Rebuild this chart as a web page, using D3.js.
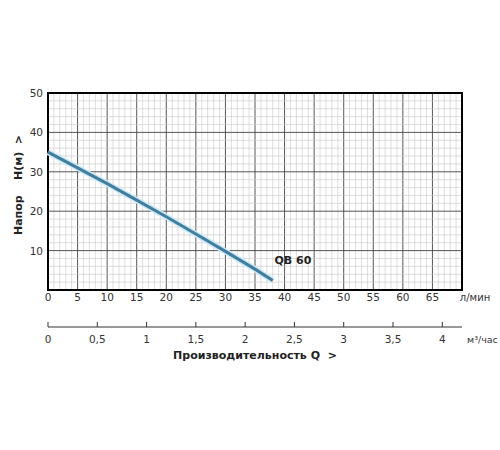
<!DOCTYPE html><html><head><meta charset="utf-8"><script src="https://cdn.jsdelivr.net/npm/d3@7"></script>
<style>body{margin:0;background:#fff}text{font-family:"DejaVu Sans",sans-serif}</style></head><body><svg width="500" height="450"></svg>
<script>
const flowLpm=[0,5,10,15,20,25,30,35,38];
const headM=[35,31,27,22.8,18.6,14.2,9.8,5.3,2.4];
const xTicks=[0,5,10,15,20,25,30,35,40,45,50,55,60,65];
const yTicks=[10,20,30,40,50];
const m3Ticks=[0,0.5,1,1.5,2,2.5,3,3.5,4];
const seriesName="QB 60";
const svg=d3.select("svg");
const L=48,R=462,T=93,B=290;
const x=d3.scaleLinear().domain([0,70]).range([L,R]);
const y=d3.scaleLinear().domain([0,50]).range([B,T]);
const g=svg.append("g");
d3.range(0,71,1).forEach(v=>g.append("line").attr("x1",x(v)).attr("x2",x(v)).attr("y1",T).attr("y2",B).attr("stroke",v%5?"#c8c8c8":"#444").attr("stroke-width",v%5?0.6:0.9));
d3.range(0,51,2).forEach(v=>g.append("line").attr("y1",y(v)).attr("y2",y(v)).attr("x1",L).attr("x2",R).attr("stroke",v%10?"#c8c8c8":"#444").attr("stroke-width",v%10?0.6:0.9));
g.append("rect").attr("x",L).attr("y",T).attr("width",R-L).attr("height",B-T).attr("fill","none").attr("stroke","#000").attr("stroke-width",2);
const line=d3.line().x((d,i)=>x(flowLpm[i])).y(d=>y(d));
svg.append("path").attr("d",line(headM)).attr("fill","none").attr("stroke","#cfe8f5").attr("stroke-width",6);
svg.append("path").attr("d",line(headM)).attr("fill","none").attr("stroke","#3f7f9f").attr("stroke-width",3);
svg.append("text").attr("x",x(38.3)).attr("y",y(6.5)).attr("font-size",11).attr("font-weight","bold").attr("fill","#222").text(seriesName);
xTicks.forEach(v=>svg.append("text").attr("x",x(v)).attr("y",301).attr("text-anchor","middle").attr("font-size",10.5).attr("fill","#333").text(v));
svg.append("text").attr("x",475).attr("y",301).attr("text-anchor","middle").attr("font-size",10).attr("fill","#333").text("л/мин");
yTicks.forEach(v=>svg.append("text").attr("x",43).attr("y",y(v)+4).attr("text-anchor","end").attr("font-size",10.5).attr("fill","#333").text(v));
const xm=d3.scaleLinear().domain([0,1]).range([L,L+(R-L)*(1000/60)/70]);
const ax=svg.append("g").attr("transform","translate(0,327)");
ax.append("line").attr("x1",L).attr("x2",R).attr("stroke","#333");
m3Ticks.forEach(v=>{ax.append("line").attr("x1",xm(v)).attr("x2",xm(v)).attr("y1",0).attr("y2",-5).attr("stroke","#333");
ax.append("text").attr("x",xm(v)).attr("y",16).attr("text-anchor","middle").attr("font-size",10.5).attr("fill","#333").text(String(v).replace(".",","));});
svg.append("text").attr("x",467).attr("y",343).attr("font-size",9.5).attr("fill","#333").text("м³/час");
svg.append("text").attr("x",255).attr("y",359).attr("text-anchor","middle").attr("font-size",11).attr("font-weight","bold").attr("fill","#222").attr("xml:space","preserve").text("Производительность Q  >");
svg.append("text").attr("transform","translate(22,185) rotate(-90)").attr("text-anchor","middle").attr("font-size",11).attr("font-weight","bold").attr("fill","#222").attr("xml:space","preserve").text("Напор    H(м)  >");
</script></body></html>
